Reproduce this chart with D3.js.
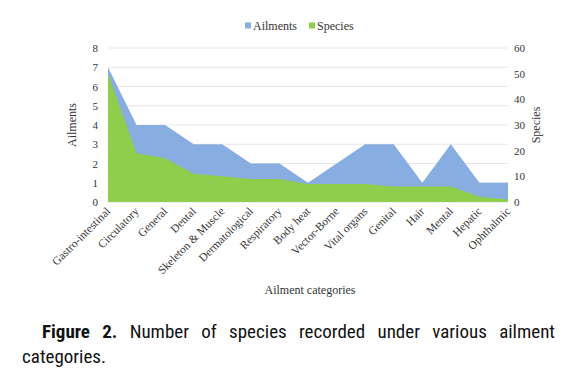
<!DOCTYPE html>
<html><head><meta charset="utf-8">
<script src="https://cdn.jsdelivr.net/npm/d3@7/dist/d3.min.js"></script>
<style>
body{margin:0;background:#fff;}
.cap{position:absolute;font-family:"Liberation Sans Narrow","Roboto Condensed","Roboto",sans-serif;font-size:19px;line-height:25px;color:#111;white-space:nowrap;}
#cap1{left:42px;top:319px;width:513px;text-align:justify;text-align-last:justify;}
#cap2{left:22px;top:344px;}
</style></head>
<body>
<svg id="c" width="570" height="310"></svg>
<div id="cap1" class="cap"></div>
<div id="cap2" class="cap"></div>
<script>
const categories = ["Gastro-intestinal","Circulatory","General","Dental","Skeleton & Muscle","Dermatological","Respiratory","Body heat","Vector-Borne","Vital organs","Genital","Hair","Mental","Hepatic","Ophthalmic"];
const ailments = [7,4,4,3,3,2,2,1,2,3,3,1,3,1,1];
const species = [50,19,17,11,10,9,9,7,7,7,6,6,6,2,1];
const leftTicks = [0,1,2,3,4,5,6,7,8];
const rightTicks = [0,10,20,30,40,50,60];

const svg = d3.select("#c");
const L=108,R=508,T=48,B=202;
const x = d3.scalePoint().domain(categories).range([L,R]);
const yL = d3.scaleLinear().domain([0,8]).range([B,T]);
const yR = d3.scaleLinear().domain([0,60]).range([B,T]);
const serif = "Liberation Serif, Times New Roman, DejaVu Serif, serif";

svg.append("g").selectAll("line").data(leftTicks).join("line")
  .attr("x1",L).attr("x2",R).attr("y1",d=>yL(d)).attr("y2",d=>yL(d))
  .attr("stroke","#e6e6e6").attr("stroke-width",1);

const areaA = d3.area().x((d,i)=>x(categories[i])).y0(B).y1(d=>yL(d));
const areaS = d3.area().x((d,i)=>x(categories[i])).y0(B).y1(d=>yR(d));
svg.append("path").datum(ailments).attr("d",areaA).attr("fill","#88ade0");
svg.append("path").datum(species).attr("d",areaS).attr("fill","#8fcd4c");

const gl = svg.append("g").attr("transform",`translate(${L-10},0)`)
  .call(d3.axisLeft(yL).tickValues(leftTicks).tickSize(0).tickPadding(0));
gl.select(".domain").remove();
gl.attr("font-family",null).attr("font-size",null);
gl.selectAll("text").style("font-family",serif).style("font-size","11px").attr("fill","#333");
const gr = svg.append("g").attr("transform",`translate(${R+6},0)`)
  .call(d3.axisRight(yR).tickValues(rightTicks).tickSize(0).tickPadding(0));
gr.select(".domain").remove();
gr.attr("font-family",null).attr("font-size",null);
gr.selectAll("text").style("font-family",serif).style("font-size","11px").attr("fill","#333");

svg.append("g").selectAll("text").data(categories).join("text")
  .attr("transform",d=>`translate(${x(d)+3},${B+10}) rotate(-45)`)
  .attr("text-anchor","end").style("font-family",serif).style("font-size","11.5px").attr("fill","#333")
  .text(d=>d);

svg.append("text").attr("transform",`translate(76,${(T+B)/2}) rotate(-90)`)
  .attr("text-anchor","middle").style("font-family",serif).style("font-size","12px").attr("fill","#333").text("Ailments");
svg.append("text").attr("transform",`translate(540,${(T+B)/2}) rotate(-90)`)
  .attr("text-anchor","middle").style("font-family",serif).style("font-size","12px").attr("fill","#333").text("Species");
svg.append("text").attr("x",310).attr("y",294).attr("text-anchor","middle")
  .style("font-family",serif).style("font-size","12px").attr("fill","#333").text("Ailment categories");

const leg = [{n:"Ailments",c:"#88ade0",x:245},{n:"Species",c:"#8fcd4c",x:309}];
const lg = svg.append("g").selectAll("g").data(leg).join("g").attr("transform",d=>`translate(${d.x},26)`);
lg.append("rect").attr("x",0).attr("y",-3.5).attr("width",6).attr("height",6).attr("fill",d=>d.c);
lg.append("text").attr("x",8).attr("y",4).style("font-family",serif).style("font-size","12px").attr("fill","#333").text(d=>d.n);

d3.select("#cap1").html("<b>Figure 2.</b> Number of species recorded under various ailment");
d3.select("#cap2").text("categories.");
</script>
</body></html>
